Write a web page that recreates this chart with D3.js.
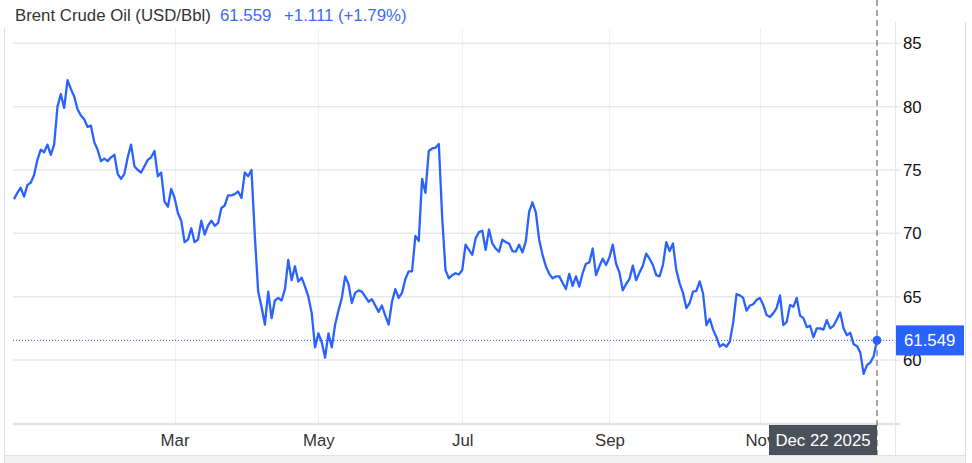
<!DOCTYPE html>
<html>
<head>
<meta charset="utf-8">
<script src="https://cdn.jsdelivr.net/npm/d3@7"></script>
<style>
  html, body { margin: 0; padding: 0; background: #fff; }
  svg { display: block; font-family: "Liberation Sans", Arial, sans-serif; }
</style>
</head>
<body>
<svg id="chart" width="972" height="463"></svg>
<script>
// ---- data ----
const startDate = "2024-12-23";
const endDate = "2025-12-22";
const holidays = ["2024-12-25", "2025-01-01"];
const values = [
  72.7, 73.2, 73.6, 72.9, 73.8, 74.0, 74.6, 75.8, 76.6, 76.4,
  77.0, 76.2, 77.0, 80.0, 81.0, 79.9, 82.1, 81.4, 80.8, 79.8,
  79.3, 79.0, 78.4, 78.5, 77.2, 76.6, 75.7, 75.9, 75.7, 76.0,
  76.2, 74.7, 74.3, 74.7, 76.0, 77.0, 75.3, 75.0, 74.8, 75.3,
  75.8, 76.0, 76.5, 74.5, 74.8, 72.5, 72.1, 73.5, 72.8, 71.6,
  71.0, 69.3,
  69.5, 70.4, 69.3, 69.5, 71.0, 69.9, 70.6, 71.0, 70.6, 70.8,
  72.0, 72.2, 73.0, 73.0, 73.1, 73.3, 72.8, 74.8, 74.5, 75.0,
  69.8, 65.4, 64.2, 62.8, 65.4, 63.3, 64.7, 64.9, 64.7, 65.6,
  67.9, 66.3, 67.4, 66.2, 66.5, 65.8, 65.0, 63.7, 61.0, 62.1,
  61.4, 60.2, 62.1, 61.0, 62.8, 63.9, 64.9, 66.6, 66.0, 64.5,
  65.3, 65.5,
  65.4, 65.0, 64.6, 64.8, 64.3, 63.8, 64.3, 63.5, 62.8, 64.6,
  65.6, 64.9, 65.3, 66.4, 67.0, 67.0, 69.8, 69.4, 74.3, 73.2,
  76.5, 76.7, 76.75, 77.05, 71.3, 67.1, 66.45, 66.7, 66.85, 66.75,
  67.1, 69.1, 68.7, 68.3, 69.6, 70.1, 70.2, 68.7, 70.3, 69.2,
  68.8, 68.55, 69.5, 69.3, 69.2, 68.6, 68.55, 69.1, 68.5, 69.35,
  71.7, 72.45, 71.65, 69.5,
  68.3, 67.4, 66.8, 66.45, 66.6, 66.6, 66.1, 65.6, 66.8, 65.85,
  66.6, 65.8, 66.85, 67.6, 67.7, 68.8, 66.7, 67.4, 68.0, 67.5,
  68.1, 69.1, 67.6, 66.9, 65.5, 66.0, 66.4, 67.45, 66.3, 66.9,
  67.45, 68.4, 68.0, 67.5, 66.7, 66.6, 67.5, 69.3, 68.6, 69.2,
  67.1, 66.05, 65.3, 64.1, 64.5, 65.4, 65.45, 66.2, 65.25, 62.75,
  63.25,
  62.4, 61.8, 61.05, 61.25, 61.05, 61.45, 62.95, 65.2, 65.1, 64.9,
  63.9, 64.3, 64.4, 64.75, 64.9, 64.35, 63.55, 63.4, 63.7, 64.1,
  65.1, 62.75, 63.0, 64.35, 64.2, 64.9, 63.5, 63.3, 62.6, 62.7,
  61.8, 62.5, 62.5, 62.4, 63.15, 62.5, 62.7, 63.2, 63.75, 62.5,
  61.95, 62.15, 61.25, 61.1, 60.6, 58.9, 59.6, 59.8, 60.3, 61.55
];
const yTicks = [60, 65, 70, 75, 80, 85];
const xTickMonths = [2, 4, 6, 8, 10];           // month indexes (0-based) in 2025
const xTickLabels = ["Mar", "May", "Jul", "Sep", "Nov"];
const titleText = "Brent Crude Oil (USD/Bbl)";
const headerPrice = "61.559";
const headerChange = "+1.111 (+1.79%)";
const lastLabel = "61.549";
const lastValue = 61.549;
const lastDateLabel = "Dec 22 2025";

// ---- trading-day calendar ----
const parse = d3.utcParse("%Y-%m-%d");
const fmt = d3.utcFormat("%Y-%m-%d");
const dates = d3.utcDay.range(parse(startDate), d3.utcDay.offset(parse(endDate), 1))
  .filter(d => d.getUTCDay() !== 0 && d.getUTCDay() !== 6 && !holidays.includes(fmt(d)));

const data = values.map((v, i) => ({ i, date: dates[i], v }));

// ---- layout ----
const svg = d3.select("#chart");
const blue = "#2962ff";
const plotLeft = 13, axisRight = 895;
const fs = 16.8;

const x = d3.scaleLinear().domain([0, values.length - 1]).range([14, 877]);
const y = d3.scaleLinear().domain([60, 85]).range([360, 43.33]);

// outer frame
svg.append("rect").attr("x", 4).attr("y", 455).attr("width", 961).attr("height", 8).attr("fill", "#f2f2f2");
svg.append("line").attr("x1", 4).attr("x2", 965).attr("y1", 455.5).attr("y2", 455.5).attr("stroke", "#e2e2e2");
svg.append("line").attr("x1", 4.5).attr("x2", 4.5).attr("y1", 28).attr("y2", 463).attr("stroke", "#dedede");
svg.append("line").attr("x1", 965.5).attr("x2", 965.5).attr("y1", 22).attr("y2", 463).attr("stroke", "#dedede");
svg.append("line").attr("x1", axisRight + 0.5).attr("x2", axisRight + 0.5).attr("y1", 22).attr("y2", 455).attr("stroke", "#e6e6e6");

// vertical month gridlines
const tickIdx = xTickMonths.map(m => dates.findIndex(d => d.getUTCFullYear() === 2025 && d.getUTCMonth() === m));
svg.append("g").selectAll("line").data(tickIdx).join("line")
  .attr("x1", d => Math.round(x(d)) + 0.5).attr("x2", d => Math.round(x(d)) + 0.5)
  .attr("y1", 28).attr("y2", 423)
  .attr("stroke", "#edf1f4");

// horizontal gridlines + y axis labels
const yAxis = d3.axisRight(y).tickValues(yTicks).tickSize(0).tickPadding(0).tickFormat(d3.format("d"));
svg.append("g").selectAll("line").data(yTicks).join("line")
  .attr("x1", plotLeft).attr("x2", 900)
  .attr("y1", d => y(d)).attr("y2", d => y(d))
  .attr("stroke", "#e9e9e9").attr("stroke-width", 1.5);
const gy = svg.append("g").attr("transform", "translate(903,0)").call(yAxis);
gy.select(".domain").remove();
gy.selectAll("text").attr("fill", "#111").attr("font-size", fs)
  .attr("font-family", "Liberation Sans, Arial, sans-serif");

// bottom axis
svg.append("line").attr("x1", plotLeft).attr("x2", 900).attr("y1", 424).attr("y2", 424)
  .attr("stroke", "#e3e3e3").attr("stroke-width", 2.5);
const xAxis = d3.axisBottom(x).tickValues(tickIdx).tickSize(0).tickPadding(0)
  .tickFormat((d, k) => xTickLabels[k]);
const gx = svg.append("g").attr("transform", "translate(0,440)").call(xAxis);
gx.select(".domain").remove();
gx.selectAll("text").attr("fill", "#333").attr("font-size", fs)
  .attr("font-family", "Liberation Sans, Arial, sans-serif")
  .attr("dy", "0.35em");

// last value dotted line
svg.append("line").attr("x1", plotLeft).attr("x2", axisRight)
  .attr("y1", y(lastValue)).attr("y2", y(lastValue))
  .attr("stroke", blue).attr("stroke-width", 1).attr("stroke-dasharray", "1,2");

// price line
svg.append("path").datum(data)
  .attr("fill", "none").attr("stroke", blue).attr("stroke-width", 2.3)
  .attr("stroke-linejoin", "round")
  .attr("d", d3.line().x(d => x(d.i)).y(d => y(d.v)));

// crosshair dashed line
const lastX = x(values.length - 1);
svg.append("line").attr("x1", lastX).attr("x2", lastX).attr("y1", 0).attr("y2", 455)
  .attr("stroke", "#7a7a7a").attr("stroke-width", 1.3).attr("stroke-dasharray", "6,4");

// end marker
svg.append("circle").attr("cx", lastX).attr("cy", y(values[values.length - 1]))
  .attr("r", 4.5).attr("fill", blue);

// price label on axis
svg.append("rect").attr("x", 896).attr("y", y(lastValue) - 15).attr("width", 68).attr("height", 30).attr("fill", blue);
svg.append("text").attr("x", 904).attr("y", y(lastValue)).attr("dy", "0.35em")
  .attr("fill", "#fff").attr("font-size", fs).text(lastLabel);

// date label
svg.append("rect").attr("x", 769).attr("y", 425).attr("width", lastX - 769).attr("height", 30).attr("fill", "#4b515b");
svg.append("text").attr("x", (769 + lastX) / 2).attr("y", 440).attr("dy", "0.35em")
  .attr("text-anchor", "middle").attr("fill", "#fff").attr("font-size", fs).text(lastDateLabel);

// header
const header = svg.append("text").attr("y", 20.5).attr("font-size", fs);
header.append("tspan").attr("x", 15).attr("fill", "#333").text(titleText);
header.append("tspan").attr("x", 220).attr("fill", "#3b6cf6").text(headerPrice);
header.append("tspan").attr("x", 284).attr("fill", "#3b6cf6").text(headerChange);
</script>
</body>
</html>
